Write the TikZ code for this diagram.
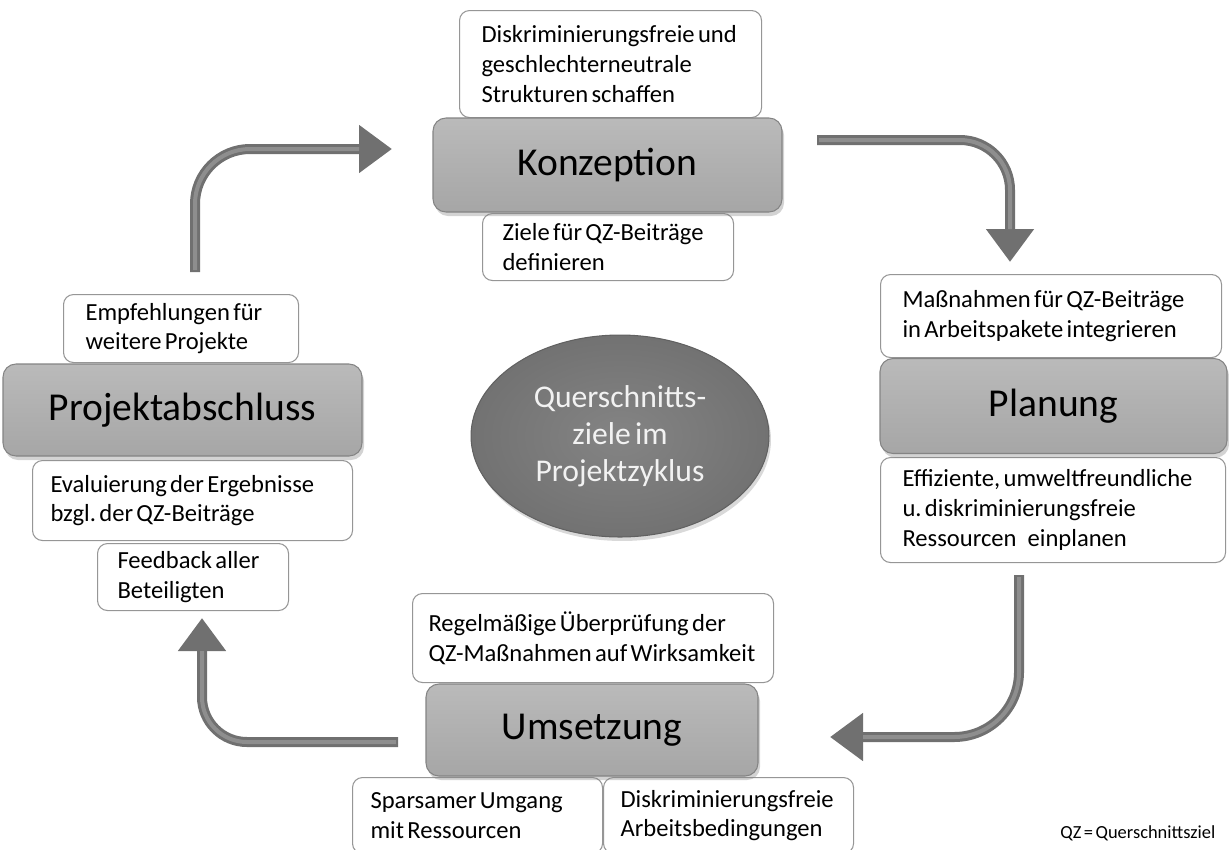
\documentclass[tikz,border=0pt]{standalone}
\usepackage{fontspec}
\setmainfont{Carlito}[WordSpace=0.6]
\usepackage{tikz}
\usetikzlibrary{arrows.meta}
\usetikzlibrary{shapes.geometric}
\usetikzlibrary{shadows}
\frenchspacing
\definecolor{linegray}{RGB}{150,150,150}
\definecolor{stagetop}{RGB}{186,186,186}
\definecolor{stagebot}{RGB}{166,166,166}
\definecolor{stageline}{RGB}{132,132,132}
\definecolor{hubin}{RGB}{132,132,132}
\definecolor{hubout}{RGB}{114,114,114}
\definecolor{hubtext}{RGB}{242,242,242}
\definecolor{arrowgray}{RGB}{112,112,112}
\definecolor{arrowlight}{RGB}{142,142,142}
\newcommand{\notefont}{\fontsize{14}{17}\selectfont}
\newcommand{\stagefont}{\fontsize{22.5}{27}\selectfont}
\newcommand{\hubfont}{\fontsize{18}{21}\selectfont}
\tikzset{note/.style n args={3}{draw=linegray, line width=0.6pt, fill=white,
                                rounded corners=0.2cm, anchor=north west, inner sep=0pt,
                                font=\notefont, align=flush left,
                                text width=#1*0.02cm, minimum height=#2*0.02cm,
                                execute at begin node={\pgfmathsetlength{\leftskip}{#3*0.02cm}}},
         stage/.style n args={2}{draw=stageline, line width=0.6pt,
                                 top color=stagetop, bottom color=stagebot,
                                 rounded corners=0.26cm, inner sep=0pt, font=\stagefont,
                                 minimum width=#1*0.02cm, minimum height=#2*0.02cm,
                                 drop shadow={shadow xshift=0.4mm, shadow yshift=-0.8mm, opacity=0.35}},
         hub/.style = {ellipse, inner color=hubin, outer color=hubout, draw=hubout!85!black,
                       line width=0.6pt, minimum width=5.96cm, minimum height=4.04cm, inner sep=0pt,
                       align=center, text=hubtext, font=\hubfont,
                       drop shadow={shadow xshift=0.4mm, shadow yshift=-0.8mm, opacity=0.3}},
         flow/.style = {draw=arrowgray, line width=0.2cm, rounded corners=1cm,
                        -{Triangle[length=0.66cm, width=0.92cm]}},
         flowlight/.style = {draw=arrowlight, line width=0.08cm, rounded corners=1cm,
                             shorten >=0.66cm, shorten <=0.04cm}}

\begin{document}
\begin{tikzpicture}[x=0.02cm, y=-0.02cm]
    \useasboundingbox (0, 0) rectangle (1229, 849);

    % Konzeption
    \node [note={302}{107}{22}] (kTop) at (459, 10)
          {Diskriminierungsfreie und\\geschlechterneutrale\\Strukturen schaffen};
    \node [note={251}{67}{20}] (kBot) at (482, 213)
          {Ziele für QZ-Beiträge\\definieren};
    \node [stage={349}{94}] (konz) at (607.5, 165) {Konzeption};

    % Planung
    \node [note={341}{83}{22}] (pTop) at (880, 274)
          {Maßnahmen für QZ-Beiträge\\in Arbeitspakete integrieren};
    \node [note={345}{105}{22}] (pBot) at (880, 457)
          {Effiziente, umweltfreundliche\\u. diskriminierungsfreie\\Ressourcen\hspace{0.45em}einplanen};
    \node [stage={347}{95}] (plan) at (1053.5, 406) {Planung};

    % Umsetzung
    \node [note={361}{89}{16}] (uTop) at (412, 593)
          {Regelmäßige Überprüfung der\\QZ-Maßnahmen auf Wirksamkeit};
    \node [note={250}{76}{18}] (uLeft) at (352, 777)
          {Sparsamer Umgang\\mit Ressourcen};
    \node [note={250}{76}{17}] (uRight) at (603, 777)
          {Diskriminierungsfreie\\Arbeitsbedingungen};
    \node [stage={332}{92}] (ums) at (592, 730) {Umsetzung};

    % Projektabschluss
    \node [note={235}{68}{22}] (aTop) at (63, 294)
          {Empfehlungen für\\weitere Projekte};
    \node [note={320}{80}{18}] (aMid) at (32, 460)
          {Evaluierung der Ergebnisse\\bzgl. der QZ-Beiträge};
    \node [note={191}{67}{20}] (aBot) at (97, 543)
          {Feedback aller\\Beteiligten};
    \node [stage={359}{92}] (abschl) at (182.5, 410) {Projektabschluss};

    \node [hub] (hub) at (620, 436) {Querschnitts-\\ziele im\\Projektzyklus};

    \coordinate (f1s) at (195, 272);
    \coordinate (f1e) at (392, 149);
    \coordinate (f2s) at (817, 140);
    \coordinate (f2e) at (1010, 262);
    \coordinate (f3s) at (1019, 575);
    \coordinate (f3e) at (830, 737);
    \coordinate (f4s) at (398, 742);
    \coordinate (f4e) at (202, 618);

    \draw [flow, rounded corners=1.1cm] (f1s) |- (f1e);
    \draw [flowlight, rounded corners=1.1cm] (f1s) |- (f1e);
    \draw [flow] (f2s) -| (f2e);
    \draw [flowlight] (f2s) -| (f2e);
    \draw [flow, rounded corners=1.3cm] (f3s) |- (f3e);
    \draw [flowlight, rounded corners=1.3cm] (f3s) |- (f3e);
    \draw [flow, rounded corners=0.9cm] (f4s) -| (f4e);
    \draw [flowlight, rounded corners=0.9cm] (f4s) -| (f4e);

    \node [anchor=base west, inner sep=0pt, font=\fontsize{10.5}{12}\selectfont] (qzNote)
          at (1060, 838) {QZ = Querschnittsziel};
\end{tikzpicture}
\end{document}
